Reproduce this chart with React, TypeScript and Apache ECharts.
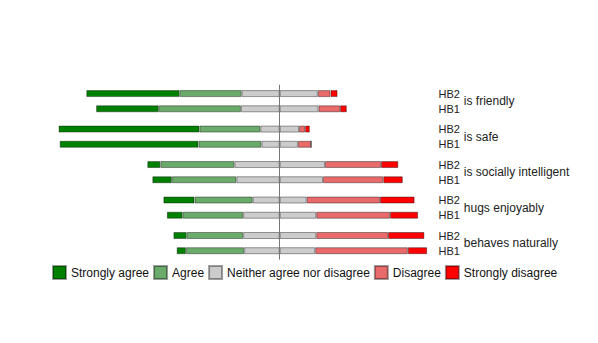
import React, { useEffect, useRef } from 'react';
import * as echarts from 'echarts';

const items = ['is friendly', 'is safe', 'is socially intelligent', 'hugs enjoyably', 'behaves naturally'];
const groups = ['HB2', 'HB1'];
const levels = ['Strongly agree', 'Agree', 'Neither agree nor disagree', 'Disagree', 'Strongly disagree'];

// row order: friendly HB2, friendly HB1, safe HB2, safe HB1, ...
const stronglyAgree = [37.2, 25.0, 56.2, 55.3, 5.2, 7.8, 12.4, 6.3, 5.3, 3.7];
const agree = [24.7, 32.7, 24.2, 25.1, 29.5, 25.7, 23.2, 24.1, 22.5, 23.2];
const neither = [30.3, 30.9, 15.4, 14.5, 36.1, 34.5, 21.5, 29.1, 29.1, 28.3];
const disagree = [5.1, 8.6, 2.4, 5.3, 22.3, 24.0, 29.2, 29.4, 28.6, 36.9];
const stronglyDisagree = [2.8, 2.7, 1.9, 0, 6.9, 7.8, 13.8, 11.2, 14.5, 7.7];

const colors = ['#008000', '#6aaa6a', '#cccccc', '#e86a6a', '#ff0000'];

// category slot layout
const PAD = 3;
const WITHIN = 6;
const BETWEEN = 8;
const nRows = items.length * groups.length;
const rowSlot = (r: number) => PAD + Math.floor(r / 2) * (WITHIN + BETWEEN) + (r % 2) * WITHIN;
const nSlots = rowSlot(nRows - 1) + PAD + 1;
const slotIds = Array.from({ length: nSlots }, (_, i) => 's' + i);
const rowLabelMap: Record<string, string> = {};
const itemLabelMap: Record<string, string> = {};
for (let r = 0; r < nRows; r++) rowLabelMap['s' + rowSlot(r)] = groups[r % 2];
items.forEach((it, g) => {
  itemLabelMap['s' + (PAD + g * (WITHIN + BETWEEN) + WITHIN / 2)] = it;
});

const toSlots = (values: number[], factor: number) => {
  const arr: (number | null)[] = Array(nSlots).fill(null);
  values.forEach((v, r) => {
    arr[rowSlot(r)] = +(v * factor).toFixed(3);
  });
  return arr;
};

const FONT = '"Liberation Sans", Arial, Helvetica, sans-serif';

export default function App() {
  const ref = useRef<HTMLDivElement>(null);
  useEffect(() => {
    if (!ref.current) return;
    const chart = echarts.init(ref.current, undefined, { renderer: 'svg' });
    const unit = 2.534;
    const pxPerPct = 2.51;
    const zeroX = 279.7;
    const xMin = -100;
    const xMax = 65;
    const mk = (name: string, data: (number | null)[], color: string, extra: any = {}) => ({
      name,
      type: 'bar',
      stack: 'likert',
      barWidth: 7,
      yAxisIndex: 0,
      data,
      itemStyle: { color, borderColor: 'rgba(0,0,0,0.38)', borderWidth: 1 },
      emphasis: { disabled: true },
      ...extra,
    });
    chart.setOption({
      animation: false,
      backgroundColor: '#ffffff',
      textStyle: { fontFamily: FONT },
      grid: {
        left: zeroX + xMin * pxPerPct,
        top: 93.6 - (PAD + 0.5) * unit,
        width: (xMax - xMin) * pxPerPct,
        height: nSlots * unit,
        containLabel: false,
      },
      xAxis: { type: 'value', min: xMin, max: xMax, show: false },
      yAxis: [
        {
          type: 'category',
          data: slotIds,
          inverse: true,
          position: 'right',
          axisLine: { show: false },
          axisTick: { show: false },
          splitLine: { show: false },
          axisLabel: {
            interval: 0,
            align: 'right',
            margin: 17,
            fontSize: 11,
            color: '#222',
            fontFamily: FONT,
            formatter: (v: string) => rowLabelMap[v] || '',
          },
        },
        {
          type: 'category',
          data: slotIds,
          inverse: true,
          position: 'right',
          axisLine: { show: false },
          axisTick: { show: false },
          splitLine: { show: false },
          axisLabel: {
            interval: 0,
            align: 'left',
            margin: 21,
            fontSize: 12,
            color: '#222',
            fontFamily: FONT,
            formatter: (v: string) => itemLabelMap[v] || '',
          },
        },
      ],
      legend: {
        data: levels,
        left: 52,
        top: 265,
        padding: 0,
        itemWidth: 13,
        itemHeight: 13,
        itemGap: 4,
        icon: 'rect',
        selectedMode: false,
        textStyle: { fontSize: 12, color: '#111', fontFamily: FONT },
      },
      series: [
        mk(levels[2], toSlots(neither, -0.5), colors[2]),
        mk(levels[1], toSlots(agree, -1), colors[1]),
        mk(levels[0], toSlots(stronglyAgree, -1), colors[0]),
        mk(levels[2], toSlots(neither, 0.5), colors[2]),
        mk(levels[3], toSlots(disagree, 1), colors[3]),
        mk(levels[4], toSlots(stronglyDisagree, 1), colors[4], {
          markLine: {
            silent: true,
            symbol: 'none',
            z: 10,
            label: { show: false },
            lineStyle: { color: '#777', width: 1, type: 'solid' },
            emphasis: { disabled: true },
            data: [{ xAxis: 0 }],
          },
        }),
      ],
    });
    return () => chart.dispose();
  }, []);
  return (
    <div
      ref={ref}
      style={{ position: 'fixed', left: 0, top: 0, width: 598, height: 343, background: '#fff' }}
    />
  );
}
